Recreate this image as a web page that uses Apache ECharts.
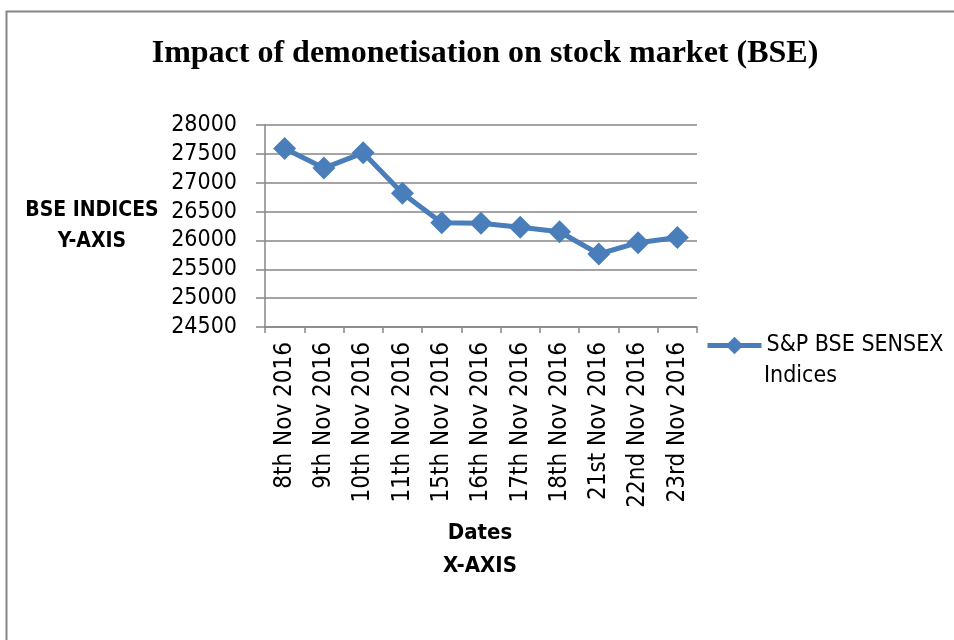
<!DOCTYPE html>
<html>
<head>
<meta charset="utf-8">
<script src="https://cdn.jsdelivr.net/npm/echarts@6/dist/echarts.min.js"></script>
<style>
html,body{margin:0;padding:0;background:#fff;}
#chart{width:954px;height:640px;}
</style>
</head>
<body>
<div id="chart"></div>
<script>
const titleText = 'Impact of demonetisation on stock market (BSE)';
const categories = ['8th Nov 2016','9th Nov 2016','10th Nov 2016','11th Nov 2016','15th Nov 2016','16th Nov 2016','17th Nov 2016','18th Nov 2016','21st Nov 2016','22nd Nov 2016','23rd Nov 2016'];
const sensexValues = [27591, 27253, 27518, 26819, 26305, 26299, 26228, 26150, 25765, 25961, 26052];
const seriesName = 'S&P BSE SENSEX Indices';
const legendLines = ['S&P BSE SENSEX', 'Indices'];
const yMin = 24500, yMax = 28000, yStep = 500;
const yAxisName = ['BSE INDICES', 'Y-AXIS'];
const xAxisName = ['Dates', 'X-AXIS'];

const narrow = '"DejaVu Sans Condensed", "Liberation Sans Narrow", "Arial Narrow", sans-serif';
const gridColor = '#868686';
const blue = '#4A7EBB';

const chart = echarts.init(document.getElementById('chart'), null, {renderer: 'canvas'});
chart.setOption({
  animation: false,
  backgroundColor: '#ffffff',
  title: {
    text: titleText,
    left: 480, top: 33,
    textAlign: 'center',
    textStyle: {fontFamily: '"Liberation Serif", "Times New Roman", serif', fontWeight: 'bold', fontSize: 32, color: '#000'}
  },
  grid: {left: 265, right: 257, top: 125, bottom: 313, containLabel: false},
  legend: {
    left: 705, top: 334, padding: 0,
    orient: 'vertical',
    itemWidth: 54, itemHeight: 22,
    lineStyle: {width: 5},
    formatter: function () { return legendLines[0]; },
    textStyle: {fontFamily: narrow, fontSize: 23, color: '#000'},
    data: [seriesName]
  },
  xAxis: {
    type: 'category',
    data: categories,
    boundaryGap: true,
    axisLine: {lineStyle: {color: gridColor, width: 1.5}},
    axisTick: {show: true, length: 6, lineStyle: {color: gridColor, width: 1.5}},
    axisLabel: {rotate: 90, margin: 15, fontFamily: narrow, fontSize: 24, color: '#000', interval: 0}
  },
  yAxis: {
    type: 'value',
    min: yMin, max: yMax, interval: yStep,
    axisLine: {show: true, lineStyle: {color: gridColor, width: 1.5}},
    axisTick: {show: true, length: 9, lineStyle: {color: gridColor, width: 1.5}},
    splitLine: {show: true, lineStyle: {color: gridColor, width: 1.5}},
    axisLabel: {margin: 28, fontFamily: narrow, fontSize: 23, color: '#000', formatter: function (v) { return String(v); }}
  },
  series: [{
    name: seriesName,
    type: 'line',
    data: sensexValues,
    symbol: 'diamond',
    symbolSize: 23,
    showAllSymbol: true,
    itemStyle: {color: blue},
    lineStyle: {color: blue, width: 5}
  }],
  graphic: [
    {type: 'rect', left: 4, top: 9, shape: {x: 0, y: 0, width: 1000, height: 700}, style: {fill: 'none', stroke: '#858585', lineWidth: 2}, silent: true},
    {type: 'text', x: 764, y: 376, style: {text: legendLines[1], fontFamily: narrow, fontSize: 23, fill: '#000', textAlign: 'left', textVerticalAlign: 'middle'}},
    {type: 'text', x: 92, y: 211, style: {text: yAxisName[0], fontFamily: narrow, fontWeight: 'bold', fontSize: 21, fill: '#000', textAlign: 'center', textVerticalAlign: 'middle'}},
    {type: 'text', x: 92, y: 242, style: {text: yAxisName[1], fontFamily: narrow, fontWeight: 'bold', fontSize: 21, fill: '#000', textAlign: 'center', textVerticalAlign: 'middle'}},
    {type: 'text', x: 480, y: 533, style: {text: xAxisName[0], fontFamily: narrow, fontWeight: 'bold', fontSize: 22, fill: '#000', textAlign: 'center', textVerticalAlign: 'middle'}},
    {type: 'text', x: 480, y: 566, style: {text: xAxisName[1], fontFamily: narrow, fontWeight: 'bold', fontSize: 22, fill: '#000', textAlign: 'center', textVerticalAlign: 'middle'}}
  ]
});
</script>
</body>
</html>
